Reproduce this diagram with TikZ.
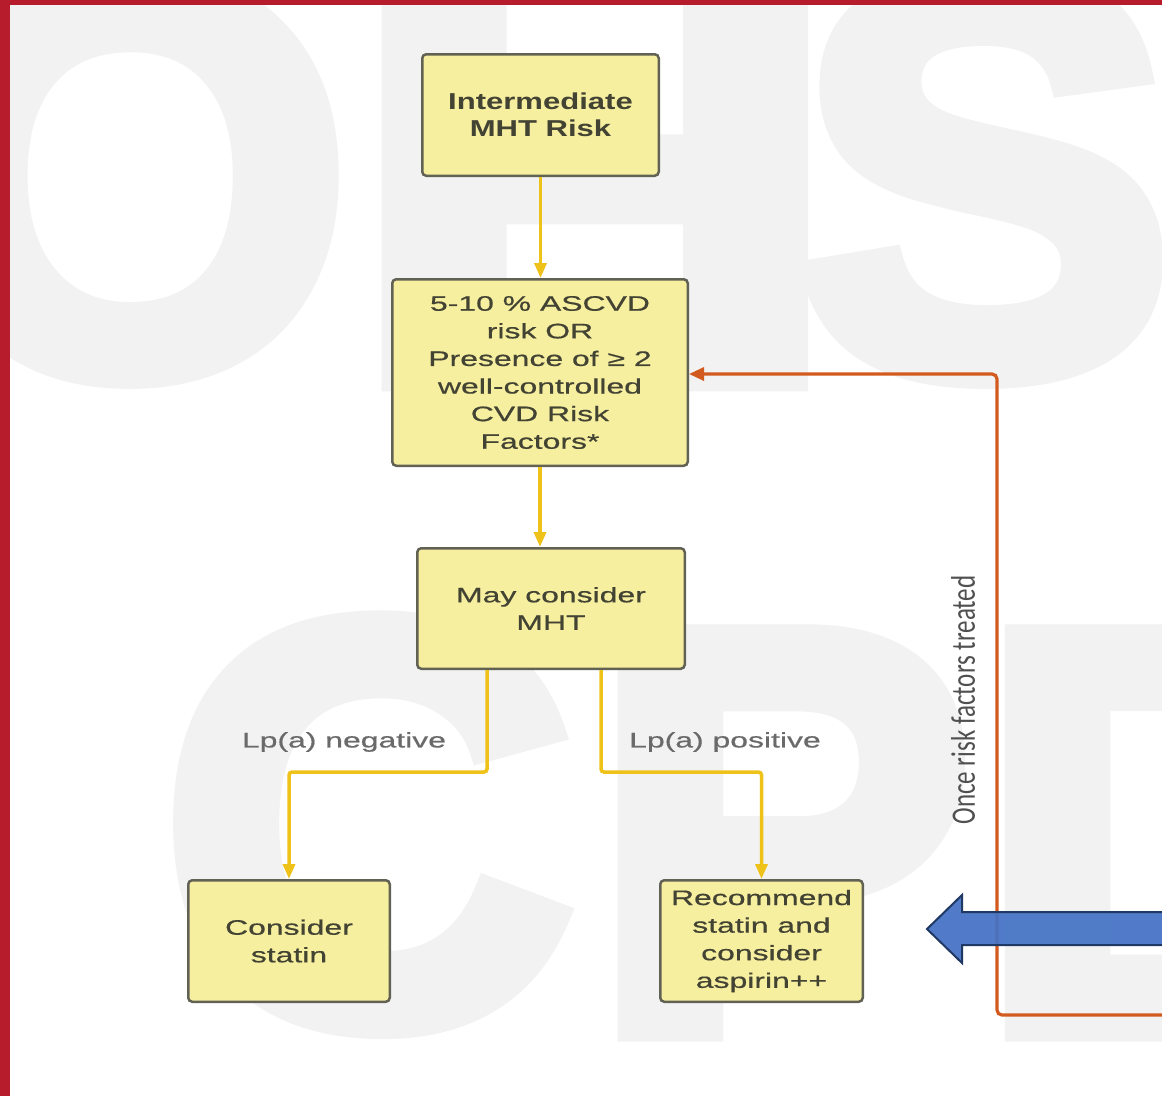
\documentclass[tikz,border=0pt]{standalone}
\usepackage{fontspec}
\setmainfont{Liberation Sans}
\newfontfamily\boxfont[FakeStretch=1.52,FakeBold=0.6]{Liberation Sans}
\newfontfamily\boldbox[FakeStretch=1.35]{Liberation Sans}
\newfontfamily\rotfont{Carlito}
\newfontfamily\wmfont[FakeBold=4]{Liberation Sans Bold}
\usetikzlibrary{arrows.meta}
\definecolor{redb}{HTML}{B71C2C}
\definecolor{boxfill}{HTML}{F7EFA0}
\definecolor{boxedge}{HTML}{626254}
\definecolor{txt}{HTML}{434334}
\definecolor{yel}{HTML}{EFC21A}
\definecolor{orng}{HTML}{D25A1E}
\definecolor{bluef}{HTML}{4472C4}
\definecolor{blued}{HTML}{1F3864}
\definecolor{lblgray}{HTML}{6A6A6A}
\definecolor{rotgray}{HTML}{505050}
\definecolor{wm}{HTML}{F2F2F2}
\begin{document}
\begin{tikzpicture}[x=1pt,y=-1pt,
  box/.style={draw=boxedge, fill=boxfill, line width=2.5pt, rounded corners=4pt,
    align=center, inner sep=0pt, text=txt,
    font=\boxfont\fontsize{21}{27.6}\selectfont},
  yarrow/.style={draw=yel, line width=3.5pt, rounded corners=3pt,
    -{Triangle[length=15pt,width=12pt]}},
  oarrow/.style={draw=orng, line width=3.2pt, rounded corners=5pt,
    -{Triangle[length=15pt,width=13pt]}},
  lbl/.style={text=lblgray, inner sep=0pt, font=\boxfont\fontsize{21}{24}\selectfont},
  wmletter/.style={text=wm, inner sep=0pt, anchor=base, font=\wmfont\fontsize{566}{566}\selectfont},
  wmletterb/.style={text=wm, inner sep=0pt, anchor=base, font=\wmfont\fontsize{573}{573}\selectfont},
  rot/.style={rotate=90, text=rotgray, inner sep=0pt, font=\rotfont\fontsize{25}{25}\selectfont}
]
\useasboundingbox (0,0) rectangle (1162,1096);
\fill[white] (0,0) rectangle (1162,1096);
% watermark
\begin{scope}
\clip (0,0) rectangle (1162,1096);
\node[wmletter] (wmO) at (131,372) {O};
\node[wmletter] (wmH) at (595,380) {\scalebox{1.2}[1]{H}};
\node[wmletter] (wmS) at (985,372) {S};
\node[wmletterb] (wmC) at (368,1022) {C};
\node[wmletterb] (wmP) at (782,1030) {P};
\node[wmletterb] (wmD) at (1185,1030) {D};
\end{scope}
% red frame
\fill[redb] (0,0) rectangle (10,1096);
\fill[redb] (0,0) rectangle (1162,5);
% boxes
\node[box, minimum width=236.5pt, minimum height=121.5pt,
  font=\boldbox\bfseries\fontsize{23}{27}\selectfont] (b1) at (540.5,115) {Intermediate\\MHT Risk};
\node[box, minimum width=295.5pt, minimum height=186.5pt] (b2) at (540,372.5)
  {5-10 \% ASCVD\\risk OR\\Presence of ≥ 2\\well-controlled\\CVD Risk\\Factors*};
\node[box, minimum width=267.5pt, minimum height=120.5pt] (b3) at (551,608.5) {May consider\\MHT};
\node[box, minimum width=201.5pt, minimum height=121.5pt] (b4) at (289,941) {Consider\\statin};
\node[box, minimum width=202.5pt, minimum height=121.5pt] (b5) at (761.5,941)
  {Recommend\\statin and\\consider\\aspirin++};
% connectors
\draw[yarrow] (b1.south) -- (b1.south |- b2.north);
\draw[yarrow] (b2.south) -- (b2.south |- b3.north);
\draw[yarrow] ([xshift=-64pt]b3.south) -- ++(0,102) -| (b4.north);
\draw[yarrow] ([xshift=50pt]b3.south) -- ++(0,102) -| (b5.north);
\node[lbl] (lneg) at (344,742) {Lp(a) negative};
\node[lbl] (lpos) at (725,742) {Lp(a) positive};
% feedback loop
\coordinate (fbin) at (1175,1015);
\coordinate (fbturn) at (997,374);
\draw[oarrow] (fbin) -| (fbturn) -- (b2.east |- fbturn);
\node[rot] (once) at (963,700) {\scalebox{1}[1.37]{Once risk factors treated}};
% blue block arrow
\draw[fill=bluef, fill opacity=0.93, draw=blued, line width=2pt, line join=miter]
  (1175,912) -- (962,912) -- (962,895) -- (927,929) -- (962,963) -- (962,945) -- (1175,945) -- cycle;
\end{tikzpicture}
\end{document}
